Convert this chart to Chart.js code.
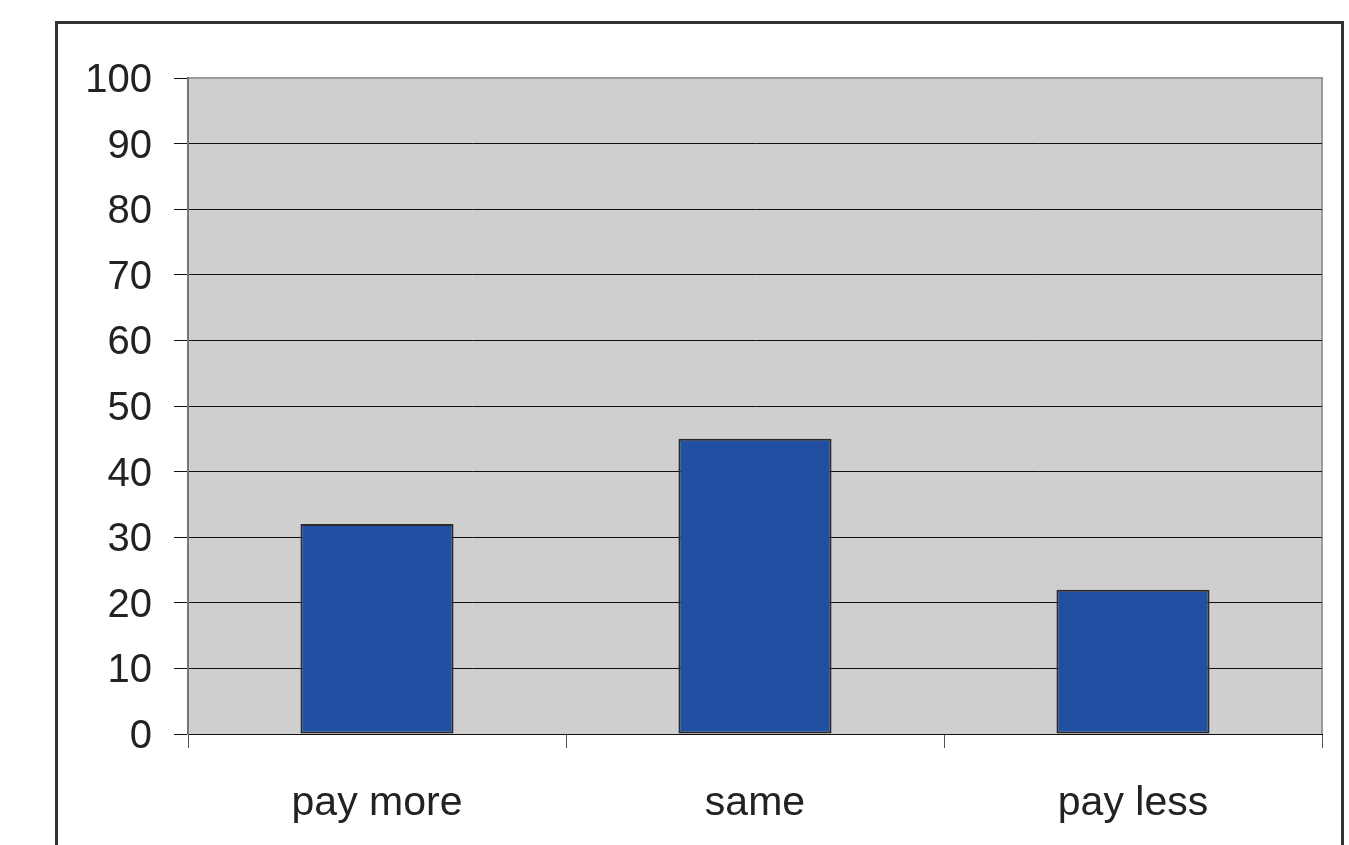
<!DOCTYPE html>
<html>
<head>
<meta charset="utf-8">
<script src="https://cdn.jsdelivr.net/npm/chart.js@4"></script>
<style>
  html, body { margin: 0; padding: 0; background: #fff; }
  #wrap { width: 1349px; height: 845px; }
</style>
</head>
<body>
<div id="wrap"><canvas id="bar-chart" width="1349" height="845"></canvas></div>
<script>
const categories = ['pay more', 'same', 'pay less'];
const values = [32, 45, 22];
const yTicks = [0, 10, 20, 30, 40, 50, 60, 70, 80, 90, 100];

// frame round the whole chart and the grey plot area
const framePlugin = {
    id: 'frame',
    beforeDraw(chart) {
        const c = chart.ctx;
        const a = chart.chartArea;
        c.save();
        c.fillStyle = '#fff';
        c.fillRect(0, 0, chart.width, chart.height);
        c.strokeStyle = '#333';
        c.lineWidth = 3;
        c.strokeRect(56.5, 22.5, 1286, 860);
        c.fillStyle = '#cfcfcf';
        c.fillRect(a.left, a.top, a.right - a.left, a.bottom - a.top);
        c.strokeStyle = '#9a9a9a';
        c.lineWidth = 2;
        c.beginPath();
        c.moveTo(a.left, a.top);
        c.lineTo(a.right, a.top);
        c.lineTo(a.right, a.bottom);
        c.stroke();
        c.restore();
    }
};

const ctx = document.getElementById('bar-chart').getContext('2d');
new Chart(ctx, {
    type: 'bar',
    data: {
        labels: categories,
        datasets: [{
            data: values,
            backgroundColor: '#2150a2',
            borderColor: '#2a2a2a',
            borderWidth: 2,
            borderSkipped: false,
            categoryPercentage: 1,
            barPercentage: 0.405
        }]
    },
    options: {
        responsive: false,
        animation: false,
        events: [],
        layout: { padding: { top: 78, right: 27, left: 0, bottom: 0 } },
        plugins: { legend: { display: false }, tooltip: { enabled: false } },
        scales: {
            x: {
                offset: true,
                grid: {
                    offset: true,
                    drawOnChartArea: false,
                    tickLength: 14,
                    color: '#555'
                },
                border: { display: true, color: '#111', width: 1 },
                ticks: {
                    color: '#222',
                    padding: 31,
                    font: { family: 'Liberation Sans, Arial, sans-serif', size: 41 }
                },
                afterFit(scale) { scale.height = 111; }
            },
            y: {
                min: 0,
                max: 100,
                afterBuildTicks(scale) { scale.ticks = yTicks.map(v => ({ value: v })); },
                grid: {
                    color: (c) => c.tick && c.tick.value === 100 ? '#9a9a9a' : '#111',
                    tickColor: '#111',
                    lineWidth: 1,
                    tickLength: 14
                },
                border: { display: true, color: '#777', width: 2 },
                ticks: {
                    color: '#222',
                    padding: 22,
                    labelOffset: 3,
                    font: { family: 'Liberation Sans, Arial, sans-serif', size: 40 }
                },
                afterFit(scale) { scale.width = 188; }
            }
        }
    },
    plugins: [framePlugin]
});
</script>
</body>
</html>
